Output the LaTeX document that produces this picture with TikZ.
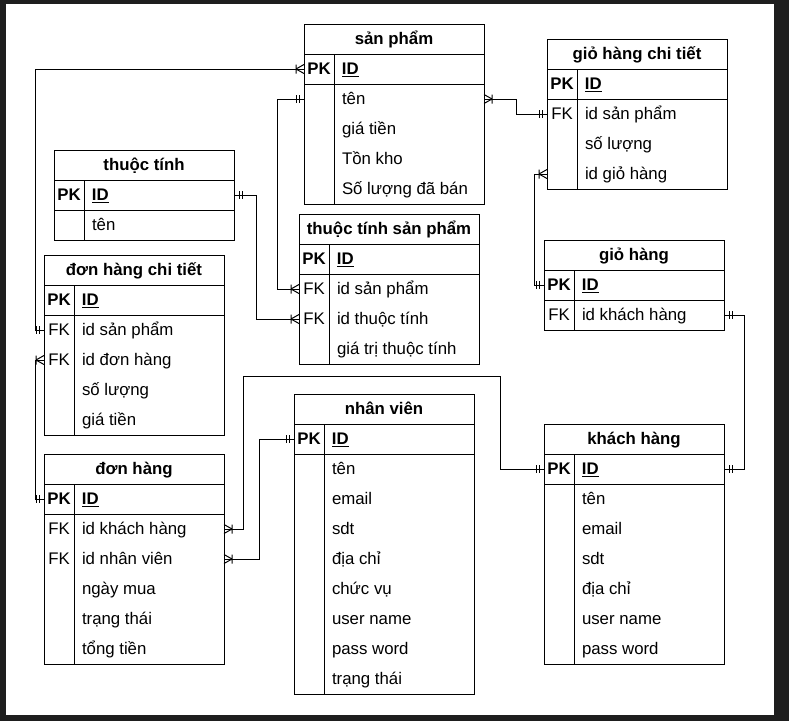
\documentclass[tikz,border=0pt]{standalone}
\usepackage{fontspec}
\setmainfont{Liberation Sans}
\usetikzlibrary{fit,calc}
\definecolor{framebg}{HTML}{1E1E1E}
\newcommand{\rtxt}[2]{\makebox[180pt][l]{\makebox[30pt]{#1}\hspace{8pt}#2}}
\newcommand{\pkrow}{\rtxt{\bfseries PK}{\bfseries\underline{ID}}}
\newcommand{\erhead}[4]{\node[hdr] (#1-h) at (#2,#3) {#4};}
\newcommand{\errow}[4]{\node[rowbox] (#1-#2) at (#1-#3.south) {#4};}
\newcommand{\erbox}[2]{%
  \node[tblbox, fit=(#1-h)(#1-#2)] (#1) {};
  \draw (#1-h.south west) -- (#1-h.south east);
  \draw (#1-0.south west) -- (#1-0.south east);
  \draw ([xshift=30pt]#1-0.north west) -- ([xshift=30pt]#1.south west);}
\tikzset{
  basefont/.style={font=\fontsize{16.8pt}{19pt}\selectfont},
  hdr/.style={anchor=north west, minimum width=180pt, minimum height=30pt, inner sep=0pt,
    outer sep=0pt, text height=13pt, text depth=2pt,
    font=\fontsize{16.8pt}{19pt}\selectfont\bfseries},
  rowbox/.style={anchor=north, minimum width=180pt, minimum height=30pt, inner sep=0pt,
    outer sep=0pt, text height=13pt, text depth=2pt, basefont},
  tblbox/.style={draw, inner sep=0pt, outer sep=0pt},
  pics/one/.style={code={\draw (-5,-4) -- (-5,4) (-8,-4) -- (-8,4);}},
  pics/many/.style={code={\draw (-8,-4.5) -- (-8,4.5) (-8,0) -- (0,-4.5) (-8,0) -- (0,4.5);}},
}
\begin{document}
\begin{tikzpicture}[x=1pt, y=-1pt, line width=1pt]
\useasboundingbox (0,0) rectangle (789,721);
\fill[framebg] (0,0) rectangle (789,721);
\fill[white] (6,4) rectangle (774,715);

% san pham
\erhead{sp}{304}{24}{sản phẩm}
\errow{sp}{0}{h}{\pkrow}
\errow{sp}{1}{0}{\rtxt{}{tên}}
\errow{sp}{2}{1}{\rtxt{}{giá tiền}}
\errow{sp}{3}{2}{\rtxt{}{Tồn kho}}
\errow{sp}{4}{3}{\rtxt{}{Số lượng đã bán}}
\erbox{sp}{4}

% gio hang chi tiet
\erhead{ghct}{547}{39}{giỏ hàng chi tiết}
\errow{ghct}{0}{h}{\pkrow}
\errow{ghct}{1}{0}{\rtxt{FK}{id sản phẩm}}
\errow{ghct}{2}{1}{\rtxt{}{số lượng}}
\errow{ghct}{3}{2}{\rtxt{}{id giỏ hàng}}
\erbox{ghct}{3}

% thuoc tinh
\erhead{tt}{54}{150}{thuộc tính}
\errow{tt}{0}{h}{\pkrow}
\errow{tt}{1}{0}{\rtxt{}{tên}}
\erbox{tt}{1}

% thuoc tinh san pham
\erhead{tts}{299}{214}{thuộc tính sản phẩm}
\errow{tts}{0}{h}{\pkrow}
\errow{tts}{1}{0}{\rtxt{FK}{id sản phẩm}}
\errow{tts}{2}{1}{\rtxt{FK}{id thuộc tính}}
\errow{tts}{3}{2}{\rtxt{}{giá trị thuộc tính}}
\erbox{tts}{3}

% don hang chi tiet
\erhead{dhct}{44}{255}{đơn hàng chi tiết}
\errow{dhct}{0}{h}{\pkrow}
\errow{dhct}{1}{0}{\rtxt{FK}{id sản phẩm}}
\errow{dhct}{2}{1}{\rtxt{FK}{id đơn hàng}}
\errow{dhct}{3}{2}{\rtxt{}{số lượng}}
\errow{dhct}{4}{3}{\rtxt{}{giá tiền}}
\erbox{dhct}{4}

% don hang
\erhead{dh}{44}{454}{đơn hàng}
\errow{dh}{0}{h}{\pkrow}
\errow{dh}{1}{0}{\rtxt{FK}{id khách hàng}}
\errow{dh}{2}{1}{\rtxt{FK}{id nhân viên}}
\errow{dh}{3}{2}{\rtxt{}{ngày mua}}
\errow{dh}{4}{3}{\rtxt{}{trạng thái}}
\errow{dh}{5}{4}{\rtxt{}{tổng tiền}}
\erbox{dh}{5}

% nhan vien
\erhead{nv}{294}{394}{nhân viên}
\errow{nv}{0}{h}{\pkrow}
\errow{nv}{1}{0}{\rtxt{}{tên}}
\errow{nv}{2}{1}{\rtxt{}{email}}
\errow{nv}{3}{2}{\rtxt{}{sdt}}
\errow{nv}{4}{3}{\rtxt{}{địa chỉ}}
\errow{nv}{5}{4}{\rtxt{}{chức vụ}}
\errow{nv}{6}{5}{\rtxt{}{user name}}
\errow{nv}{7}{6}{\rtxt{}{pass word}}
\errow{nv}{8}{7}{\rtxt{}{trạng thái}}
\erbox{nv}{8}

% gio hang
\erhead{gh}{544}{240}{giỏ hàng}
\errow{gh}{0}{h}{\pkrow}
\errow{gh}{1}{0}{\rtxt{FK}{id khách hàng}}
\erbox{gh}{1}

% khach hang
\erhead{kh}{544}{424}{khách hàng}
\errow{kh}{0}{h}{\pkrow}
\errow{kh}{1}{0}{\rtxt{}{tên}}
\errow{kh}{2}{1}{\rtxt{}{email}}
\errow{kh}{3}{2}{\rtxt{}{sdt}}
\errow{kh}{4}{3}{\rtxt{}{địa chỉ}}
\errow{kh}{5}{4}{\rtxt{}{user name}}
\errow{kh}{6}{5}{\rtxt{}{pass word}}
\erbox{kh}{6}

% connectors
\draw (sp-0.west) -- ++(-269,0) |- (dhct-1.west);
\pic at (sp-0.west) {many};
\pic at (dhct-1.west) {one};

\draw (dh-0.west) -- ++(-9,0) |- (dhct-2.west);
\pic at (dh-0.west) {one};
\pic at (dhct-2.west) {many};

\draw (sp-1.west) -- ++(-27,0) |- (tts-1.west);
\pic at (sp-1.west) {one};
\pic at (tts-1.west) {many};

\draw (tt-0.east) -- ++(22,0) |- (tts-2.west);
\pic[xscale=-1] at (tt-0.east) {one};
\pic at (tts-2.west) {many};

\draw (sp-1.east) -- ++(32,0) |- (ghct-1.west);
\pic[xscale=-1] at (sp-1.east) {many};
\pic at (ghct-1.west) {one};

\draw (ghct-3.west) -- ++(-13,0) |- (gh-0.west);
\pic at (ghct-3.west) {many};
\pic at (gh-0.west) {one};

\draw (gh-1.east) -- ++(20,0) |- (kh-0.east);
\pic[xscale=-1] at (gh-1.east) {one};
\pic[xscale=-1] at (kh-0.east) {one};

\draw (kh-0.west) -- ++(-44,0) -- ++(0,-93) -- ++(-257,0) |- (dh-1.east);
\pic at (kh-0.west) {one};
\pic[xscale=-1] at (dh-1.east) {many};

\draw (nv-0.west) -- ++(-35,0) |- (dh-2.east);
\pic at (nv-0.west) {one};
\pic[xscale=-1] at (dh-2.east) {many};
\end{tikzpicture}
\end{document}
